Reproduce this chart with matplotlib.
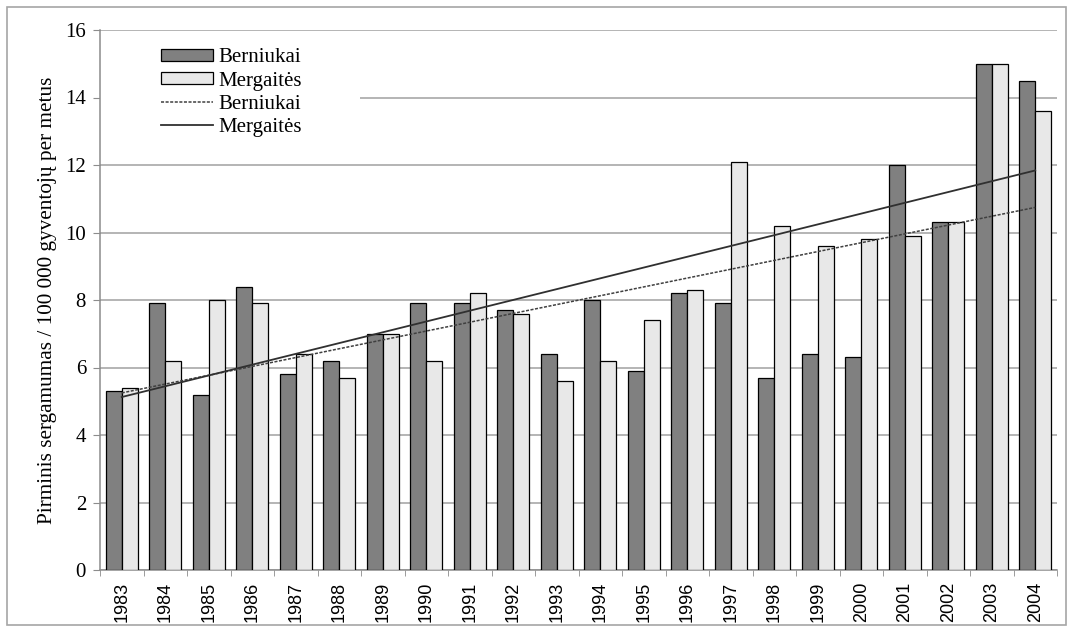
import numpy as np
import matplotlib
matplotlib.use("Agg")
import matplotlib.pyplot as plt
from matplotlib.patches import Rectangle, Patch
from matplotlib.lines import Line2D

years = [str(y) for y in range(1983, 2005)]
berniukai = [5.3, 7.9, 5.2, 8.4, 5.8, 6.2, 7.0, 7.9, 7.9, 7.7, 6.4,
             8.0, 5.9, 8.2, 7.9, 5.7, 6.4, 6.3, 12.0, 10.3, 15.0, 14.5]
mergaites = [5.4, 6.2, 8.0, 7.9, 6.4, 5.7, 7.0, 6.2, 8.2, 7.6, 5.6,
             6.2, 7.4, 8.3, 12.1, 10.2, 9.6, 9.8, 9.9, 10.3, 15.0, 13.6]

serif = "Liberation Serif"
sans = "Liberation Sans"

fig = plt.figure(figsize=(10.73, 6.32), dpi=100)
fig.patches.append(Rectangle((7 / 1073, 7 / 632), 1 - 14 / 1073, 1 - 14 / 632,
                             transform=fig.transFigure, fill=False,
                             edgecolor="#a6a6a6", linewidth=1.2))
ax = fig.add_axes([100 / 1073, 62 / 632, 957 / 1073, 540 / 632])

x = np.arange(len(years))
w = 0.37
ax.bar(x - w / 2, berniukai, w, color="#808080", edgecolor="black", linewidth=0.9, zorder=3)
ax.bar(x + w / 2, mergaites, w, color="#e8e8e8", edgecolor="black", linewidth=0.9, zorder=3)

# linear trend lines
kb = np.polyfit(x, berniukai, 1)
km = np.polyfit(x, mergaites, 1)
ax.plot(x, np.polyval(kb, x), color="#404040", linestyle=(0, (2, 1)), linewidth=1.1, zorder=4)
ax.plot(x, np.polyval(km, x), color="#303030", linestyle="-", linewidth=1.3, zorder=4)

ax.set_xlim(-0.5, len(years) - 0.5)
ax.set_ylim(0, 16)
ax.set_yticks(range(0, 17, 2))
ax.set_yticklabels([str(v) for v in range(0, 17, 2)], fontfamily=serif, fontsize=15)
ax.set_xticks(x)
ax.set_xticklabels(years, rotation=90, fontfamily=sans, fontsize=13)
ax.set_xticks(np.arange(-0.5, len(years), 1), minor=True)
ax.tick_params(axis="x", which="major", length=0, pad=8.5)
ax.tick_params(axis="x", which="minor", length=4, color="#8c8c8c")
ax.tick_params(axis="y", length=5, color="#8c8c8c", pad=5)

ax.yaxis.grid(True, color="#a0a0a0", linewidth=1.1)
ax.set_axisbelow(True)
for s in ["top", "right"]:
    ax.spines[s].set_visible(False)
for s in ["left", "bottom"]:
    ax.spines[s].set_color("#8c8c8c")
    ax.spines[s].set_linewidth(1.1)

ax.set_ylabel("Pirminis sergamumas / 100 000 gyventojų per metus",
              fontfamily=serif, fontsize=15.3, labelpad=6)

# white box behind the legend (hides the gridline at 14)
ax.add_patch(Rectangle((0, 0.759), 0.2717, 0.235, transform=ax.transAxes,
                       facecolor="white", edgecolor="none", zorder=1))

handles = [Patch(facecolor="#808080", edgecolor="black", linewidth=0.9),
           Patch(facecolor="#e8e8e8", edgecolor="black", linewidth=0.9),
           Line2D([], [], color="#404040", linestyle=(0, (2, 1)), linewidth=1.1),
           Line2D([], [], color="#303030", linewidth=1.3)]
labels = ["Berniukai", "Mergaitės", "Berniukai", "Mergaitės"]
leg = ax.legend(handles, labels, loc="upper left", bbox_to_anchor=(61 / 957, 0.966),
                frameon=False, prop={"family": serif, "size": 15},
                handlelength=2.5, handleheight=0.55, handletextpad=0.25,
                labelspacing=0.2, borderpad=0.0, borderaxespad=0.0)

fig.savefig("out.png", dpi=100)
